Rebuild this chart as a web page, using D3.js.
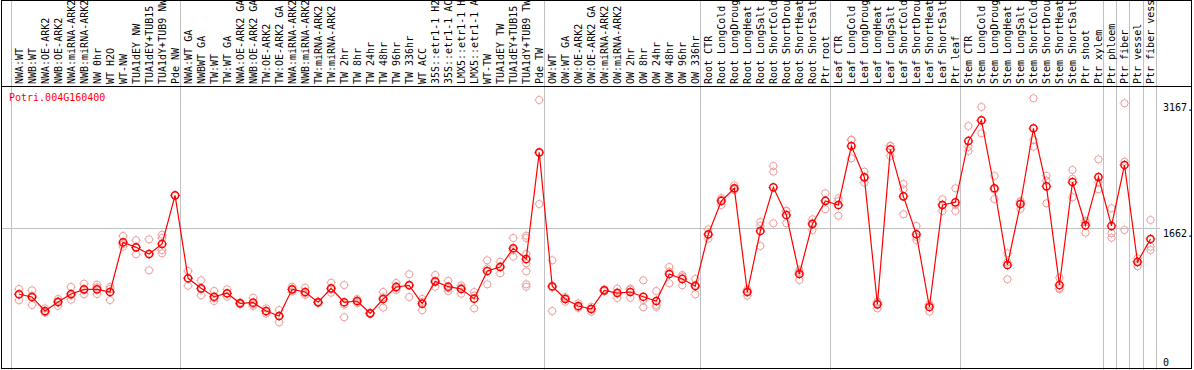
<!DOCTYPE html>
<html><head><meta charset="utf-8">
<script src="https://cdn.jsdelivr.net/npm/d3@7"></script>
<style>
html,body{margin:0;padding:0;background:#fff;}
svg{display:block;}
text{font-family:"DejaVu Sans Mono",monospace;font-size:10px;}
</style></head>
<body>
<svg id="chart" width="1194" height="370"></svg>
<script>
const geneName = "Potri.004G160400";

const categories = [
 "NWA:WT","NWB:WT","NWA:OE-ARK2","NWB:OE-ARK2","NWA:miRNA-ARK2","NWB:miRNA-ARK2","NW 0hr","WT H2O","WT-NW","TUA1dEY NW","TUA1dEY+TUB15 NW","TUA1dY+TUB9 NW","Pde NW",
 "NWA:WT GA","NWBWT GA","TW:WT","TW:WT GA","NWA:OE-ARK2 GA","NWB:OE-ARK2 GA","TW:OE-ARK2","TW:OE-ARK2 GA","NWA:miRNA-ARK2 GA","NWB:miRNA-ARK2 GA","TW:miRNA-ARK2","TW:miRNA-ARK2",
 "TW 2hr","TW 8hr","TW 24hr","TW 48hr","TW 96hr","TW 336hr","WT ACC","35S::etr1-1 H2O","35S::etr1-1 ACC","LMX5::etr1-1 H2O","LMX5::etr1-1 ACC","WT-TW","TUA1dEY TW","TUA1dEY+TUB15 TW","TUA1dY+TUB9 TW","Pde TW",
 "OW:WT","OW:WT GA","OW:OE-ARK2","OW:OE-ARK2 GA","OW:miRNA-ARK2","OW:miRNA-ARK2","OW 2hr","OW 8hr","OW 24hr","OW 48hr","OW 96hr","OW 336hr",
 "Root CTR","Root LongCold","Root LongDrought","Root LongHeat","Root LongSalt","Root ShortCold","Root ShortDrought","Root ShortHeat","Root ShortSalt","Ptr root",
 "Leaf CTR","Leaf LongCold","Leaf LongDrought","Leaf LongHeat","Leaf LongSalt","Leaf ShortCold","Leaf ShortDrought","Leaf ShortHeat","Leaf ShortSalt","Ptr leaf",
 "Stem CTR","Stem LongCold","Stem LongDrought","Stem LongHeat","Stem LongSalt","Stem ShortCold","Stem ShortDrought","Stem ShortHeat","Stem ShortSalt","Ptr shoot","Ptr xylem",
 "Ptr phloem","Ptr fiber","Ptr vessel","Ptr fiber vessel"
];

// index of the first category of each separated group
const groupStarts = [0, 13, 41, 53, 63, 73, 84, 85, 86, 87];

const meanValues = [
 876,844,677,784,879,935,935,903,1494,1434,1355,1474,2052,
 1066,947,847,888,769,776,677,618,935,903,781,947,781,796,650,820,963,983,764,1030,966,939,824,1153,1200,1423,1295,2563,
 971,820,737,701,923,891,903,847,796,1117,1058,974,
 1589,1985,2136,903,1628,2147,1818,1117,1711,1985,
 1937,2638,2266,757,2599,2040,1589,725,1937,1969,
 2698,2944,2136,1224,1949,2849,2159,986,2210,1696,2270,
 1688,2412,1260,1533
];

const replicateValues = [
 [939,876,805],[923,860,749],[709,665,657],[820,795,737],[963,862,812],[1002,927,876],[990,959,879],[963,938,808],[1569,1471,1442],[1518,1433,1351],[1529,1355,1161],[1584,1545,1402,1363],[2052],
 [1153,1067,978],[1042,935,864],[915,830,796],[935,882,847],[780,769,758],[835,756,737],[709,677,645],[689,622,543],[966,932,907],[954,887,868],[790,781,772],[1014,932,895],[986,754,603],[820,796,772],[657,650,642],[903,840,717],[1011,951,927],[1114,991,844],[820,786,686],[1105,1019,966],[1037,949,912],[980,954,883],[903,860,709],[1280,1184,995],[1263,1212,1125],[1545,1401,1323],[1572,1545,1355,1244,1149,995,966],[3185,2555,1949],
 [1280,956,677],[844,828,788],[769,728,714],[728,706,669],[935,923,911],[942,899,832],[942,932,835],[1042,808,721],[915,748,725],[1200,1144,1007],[1105,1086,983],[1058,988,876],
 [1648,1582,1537],[2020,1998,1937],[2171,2124,2113],[935,915,859],[1735,1688,1450],[2401,2333,1720],[1869,1865,1720],[1165,1140,1046],[1767,1726,1640],[2076,1993,1886],
 [2017,1984,1810],[2712,2710,2492],[2333,2263,2202],[788,774,709],[2640,2638,2519],[2187,2124,1827],[1688,1558,1521],[757,749,669],[2005,1940,1866],[2136,1937,1866],
 [2876,2630,2579],[3102,2941,2789],[2282,2118,2008],[1363,1255,1054],[1985,1972,1890],[3205,2710,2630],[2285,2226,1957],[1073,950,935],[2353,2248,2029],[1750,1730,1608],[2480,2206,2124],
 [1898,1601,1548],[3146,2452,1640],[1304,1264,1212],[1759,1442,1402]
];

const axisTicks = [0, 1662, 3167];
const axisTickLabels = ["0", "1662.", "3167."];
const gridTicks = [1662];

const svg = d3.select("#chart");
const W = 1194, H = 370;
const frame = {left: 1.5, right: 1191.5, top: 0.5, bottom: 368.5, labelBottom: 86.5};

const idx = d3.range(categories.length);
const x = d3.scalePoint().domain(idx).range([19, 1150.5]);
const y = d3.scaleLinear().domain([0, 3167]).range([368, 101.5]);

// separators
const sepX = groupStarts.map(i => x(i) - 8).concat([x(categories.length - 1) + 5]);
svg.append("g").selectAll("line").data(sepX).join("line")
  .attr("x1", d => Math.round(d) + 0.5).attr("x2", d => Math.round(d) + 0.5)
  .attr("y1", 0).attr("y2", H)
  .attr("stroke", "#c0c0c0").attr("stroke-width", 1);

// horizontal grid
svg.append("g").selectAll("line").data(gridTicks).join("line")
  .attr("x1", frame.left).attr("x2", 1160)
  .attr("y1", d => Math.round(y(d)) + 0.5).attr("y2", d => Math.round(y(d)) + 0.5)
  .attr("stroke", "#c0c0c0").attr("stroke-width", 1);

// frame
svg.append("rect").attr("x", frame.left).attr("y", frame.top)
  .attr("width", frame.right - frame.left).attr("height", frame.bottom - frame.top)
  .attr("fill", "none").attr("stroke", "#000").attr("stroke-width", 1);
svg.append("line").attr("x1", frame.left).attr("x2", frame.right)
  .attr("y1", frame.labelBottom).attr("y2", frame.labelBottom)
  .attr("stroke", "#000").attr("stroke-width", 1);

// category labels (run off the top edge as in the original)
svg.append("defs").append("clipPath").attr("id", "lblclip")
  .append("rect").attr("x", 0).attr("y", 1).attr("width", W).attr("height", 85);
svg.append("g").attr("clip-path", "url(#lblclip)")
  .selectAll("text").data(idx).join("text")
  .attr("transform", i => `translate(${x(i) + 3.5},84) rotate(-90)`)
  .attr("text-anchor", "start")
  .attr("fill", "#000")
  .text(i => categories[i]);

// right axis labels
svg.append("g").selectAll("text").data(axisTicks).join("text")
  .attr("x", 1163)
  .attr("y", d => d === 0 ? y(d) - 2.5 : y(d) + 9)
  .attr("fill", "#000")
  .text((d, i) => axisTickLabels[i]);

// gene name
svg.append("text").attr("x", 9).attr("y", 100.5).attr("fill", "#f00").text(geneName);

// marker helper: circle with four tiny ticks
function marker(g, color, sw) {
  g.append("circle").attr("r", 3.6).attr("fill", "none").attr("stroke", color).attr("stroke-width", sw);
  const t = [[0,-4,0,-4.9],[0,4,0,4.9],[-4,0,-4.9,0],[4,0,4.9,0]];
  t.forEach(a => g.append("line").attr("x1", a[0]).attr("y1", a[1]).attr("x2", a[2]).attr("y2", a[3])
    .attr("stroke", color).attr("stroke-width", 0.8));
}

// replicates
const reps = [];
idx.forEach(i => replicateValues[i].forEach(v => reps.push({i, v})));
svg.append("g").selectAll("g").data(reps).join("g")
  .attr("transform", d => `translate(${x(d.i)},${y(d.v)})`)
  .each(function() { marker(d3.select(this), "#ee9e9e", 1); });

// mean line
const line = d3.line().x((d, i) => x(i)).y(d => y(d));
svg.append("path").datum(meanValues).attr("d", line)
  .attr("fill", "none").attr("stroke", "#f00").attr("stroke-width", 1.2);

// mean markers
svg.append("g").selectAll("g").data(meanValues).join("g")
  .attr("transform", (d, i) => `translate(${x(i)},${y(d)})`)
  .each(function() { marker(d3.select(this), "#f00", 1.5); });
</script>
</body></html>
